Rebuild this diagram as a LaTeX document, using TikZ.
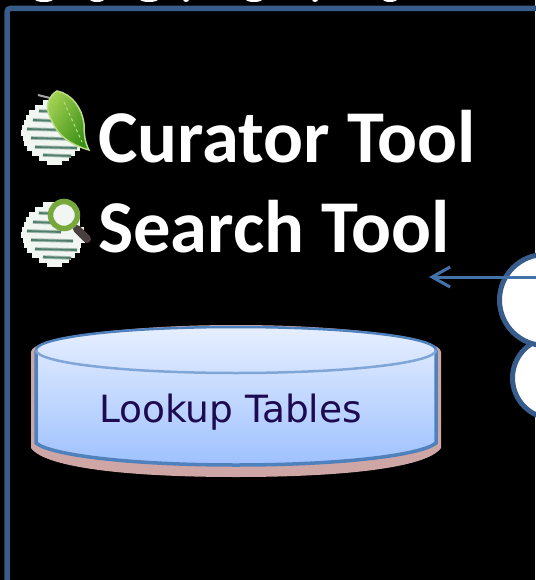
\documentclass[tikz,border=0pt]{standalone}
\usepackage{fontspec}
\setmainfont{Carlito}
\newfontfamily\lookupfont{DejaVu Sans}
\usetikzlibrary{arrows.meta}
\definecolor{frameblue}{HTML}{385D8A}
\definecolor{arrowblue}{HTML}{4472A8}
\definecolor{cylline}{HTML}{4F81BD}
\definecolor{cyllid}{HTML}{7FA6D6}
\definecolor{cylshadow}{HTML}{CFA6A6}
\definecolor{cyltop}{HTML}{E6EFFF}
\definecolor{cylbot}{HTML}{9FC1FF}
\definecolor{leafdark}{HTML}{3A8F16}
\definecolor{leaflight}{HTML}{A0D050}
\definecolor{leafedge}{HTML}{B8DC88}
\definecolor{ringgreen}{HTML}{78A83C}
\definecolor{handlebrown}{HTML}{4A3F3F}
\definecolor{globeline}{HTML}{4F7F6C}
\definecolor{globehalo}{HTML}{A9BDB2}
\definecolor{globewhite}{HTML}{F2F6F2}
\tikzset{
  x=1pt,y=-1pt,
  title/.style={font=\bfseries\fontsize{74.5}{74.5}\selectfont,text=white,anchor=base west,inner sep=0pt},
  cloudpart/.style={draw=frameblue,fill=white,line width=5pt},
  globeicon/.pic={
    \foreach \yy/\xa/\xb in {-28/-10/14,-23/-18/22,-18/-24/22,-13/-27/27,-8/-29/27,-3/-31/31,2/-32/30,7/-30/32,12/-29/28,17/-26/27,22/-21/22,27/-14/16,31/-6/9}
      \draw[globewhite,line width=5.6pt] (\xa,\yy) -- (\xb,\yy);
    \foreach \yy/\xa/\xb in {-20/-14/10,-11/-20/4,-2/-26/8,7/-22/20,16/-18/24,24/-10/18}{
      \draw[globehalo,line width=3.6pt] (\xa,\yy) -- (\xb,\yy+1);
      \draw[globeline,line width=1.8pt] (\xa,\yy) -- (\xb,\yy+1);
    }
  }
}
\begin{document}
\begin{tikzpicture}
\useasboundingbox (0,0) rectangle (535,580);
\fill[black] (0,0) rectangle (535,580);
% clipped text remnants at the top edge
\foreach \px/\pw in {44/9,97/7,149/9,186/3,254/8,315/3,390/7}
  \fill[white] (\px,-0.5) ellipse[x radius=\pw,y radius=2.5];
% frame
\draw[frameblue,line width=5.5pt,rounded corners=3pt] (7.2,590) -- (7.2,8.5) -- (545,8.5);
% icons
\pic at (53,131) {globeicon};
\pic at (53,233) {globeicon};
\draw[color=gray!70!white,line width=2pt] (38,95) -- (50,98);
\path[draw=leafedge,line width=1.5pt,bottom color=leafdark,top color=leaflight,shading angle=60]
  (57,91) .. controls (72,94) and (82,108) .. (84,124) .. controls (84,134) and (85,143) .. (89,150)
  .. controls (78,147) and (62,140) .. (55,127) .. controls (50,118) and (46,110) .. (48,103)
  .. controls (50,97) and (53,93) .. (57,91) -- cycle;
\draw[leafedge,line width=1pt,dashed] (64,102) -- (82,142);
\draw[line width=8pt,color=handlebrown,line cap=round] (77,229) -- (87,239);
\fill[globewhite] (64,215) circle[radius=12];
\draw[color=ringgreen,line width=5.5pt] (64,215) circle[radius=13.5];
% titles
\node[title] (curator) at (98,163) {Curator Tool};
\node[title] (search) at (98,252) {Search Tool};
% cloud
\draw[cloudpart] (553,378) circle[radius=40.5];
\draw[cloudpart] (545,300) circle[radius=45.5];
% arrow
\coordinate (arrowfrom) at (545,277);
\coordinate (arrowto) at (429,277);
\draw[arrowblue,line width=3pt,-{Straight Barb[length=18pt,width=20pt,line width=3pt]}] (arrowfrom) -- (arrowto);
% cylinder
\fill[cylshadow] (31,352) -- (31,448) .. controls (45,468) and (130,477) .. (236,477)
  .. controls (342,477) and (427,468) .. (441,448) -- (441,352)
  .. controls (441,338) and (347,325) .. (236,325) .. controls (125,325) and (31,338) .. (31,352) -- cycle;
\shade[top color=cyltop,bottom color=cylbot]
  (36,350) .. controls (36,337) and (126,327) .. (236,327) .. controls (346,327) and (436,337) .. (436,350)
  -- (436,443) .. controls (422,455) and (342,465) .. (236,465) .. controls (130,465) and (50,455) .. (36,443) -- cycle;
\draw[cylline,line width=2.5pt] (36,350) .. controls (36,337) and (126,327) .. (236,327) .. controls (346,327) and (436,337) .. (436,350);
\draw[cylline,line width=3.5pt] (36,350) -- (36,443) .. controls (50,455) and (130,465) .. (236,465) .. controls (342,465) and (422,455) .. (436,443) -- (436,350);
\draw[cyllid,line width=2.5pt] (36,350) .. controls (36,363) and (126,373) .. (236,373) .. controls (346,373) and (436,363) .. (436,350);
\node[font=\lookupfont\fontsize{37.5}{37.5}\selectfont,text={rgb,255:red,30;green,10;blue,80},inner sep=0pt,anchor=base] (lookup) at (230.5,422) {Lookup Tables};
\end{tikzpicture}
\end{document}
